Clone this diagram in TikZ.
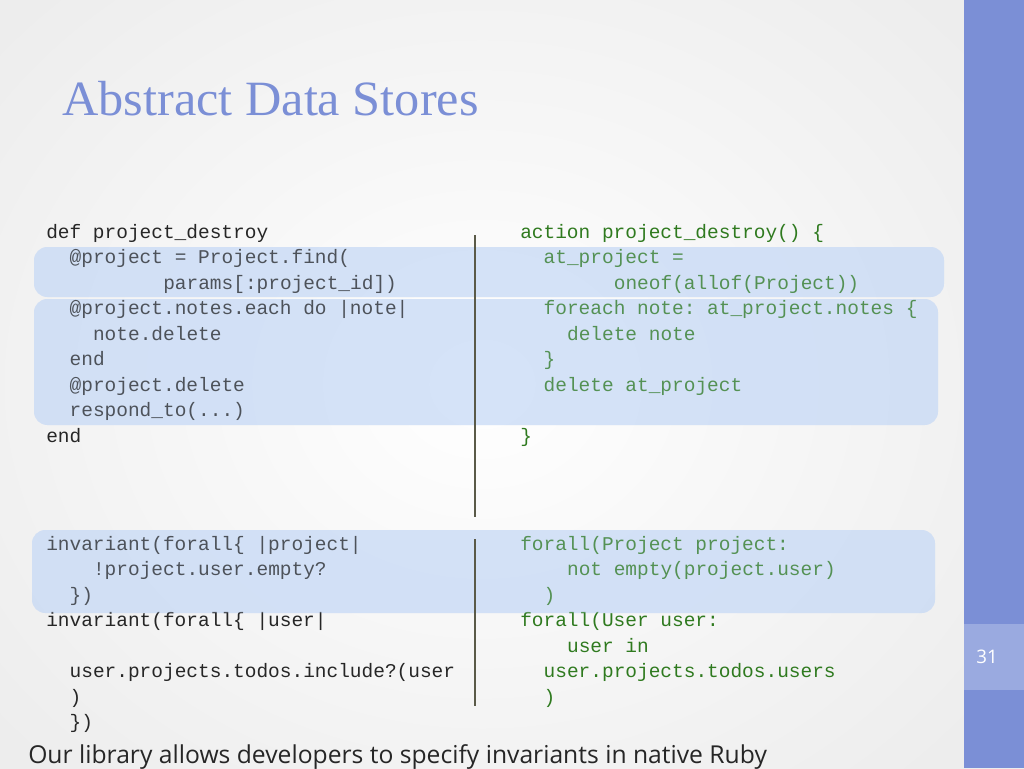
\documentclass[tikz,border=0pt]{standalone}
\usepackage{fontspec}
\setmainfont{Liberation Serif}
\setsansfont{Open Sans}
\setmonofont{Liberation Mono}
\usetikzlibrary{positioning}
\definecolor{slideblue}{HTML}{7B8FD6}
\definecolor{numblue}{HTML}{9AAAE0}
\definecolor{hiblue}{HTML}{C4D8F6}
\definecolor{codegreen}{HTML}{2F7A1F}
\definecolor{rulegray}{HTML}{5A5A48}
\tikzset{
    code/.style={anchor=base west, inner sep=0pt, font=\ttfamily\fontsize{14.6}{17}\selectfont, text=black!85},
    gcode/.style={code, text=codegreen},
    hibox/.style={fill=hiblue, fill opacity=0.6, rounded corners=10pt, draw=none},
    divider/.style={draw=rulegray, line width=1.4pt}
}
\begin{document}
\begin{tikzpicture}[x=0.75pt, y=-0.75pt]
    \def \ch {11.7}
    \def \ln {25.5}
    \useasboundingbox (0,0) rectangle (1024,768);
    \fill[white] (0,0) rectangle (964,768);
    \shade[inner color=white, outer color=black!7] (-150,-150) rectangle (1114,918);
    \fill[slideblue] (964,0) rectangle (1024,768);
    \fill[numblue] (964,624) rectangle (1024,690);
    \node[text=white, font=\sffamily\fontsize{14}{16}\selectfont] (pagenum) at (987,657) {31};
    \node[anchor=base west, inner sep=0pt, text=slideblue, font=\fontsize{37}{40}\selectfont, xscale=1.02] (title) at (62,115) {Abstract Data Stores};
    % highlights
    \path[hibox] (34,247) rectangle (944,297);
    \path[hibox] (34,299) rectangle (938,425);
    \path[hibox] (32,530) rectangle (935,613);
    % left code, upper block
    \node[code] (l1) at (46,238) {def project\_destroy};
    \node[code] (l2) at (46+2*\ch,238+\ln) {@project = Project.find(};
    \node[code] (l3) at (46+10*\ch,238+2*\ln) {params[:project\_id])};
    \node[code] (l4) at (46+2*\ch,238+3*\ln) {@project.notes.each do |note|};
    \node[code] (l5) at (46+4*\ch,238+4*\ln) {note.delete};
    \node[code] (l6) at (46+2*\ch,238+5*\ln) {end};
    \node[code] (l7) at (46+2*\ch,238+6*\ln) {@project.delete};
    \node[code] (l8) at (46+2*\ch,238+7*\ln) {respond\_to(...)};
    \node[code] (l9) at (46,238+8*\ln) {end};
    % right code, upper block
    \node[gcode] (r1) at (520,238) {action project\_destroy() \{};
    \node[gcode] (r2) at (520+2*\ch,238+\ln) {at\_project =};
    \node[gcode] (r3) at (520+8*\ch,238+2*\ln) {oneof(allof(Project))};
    \node[gcode] (r4) at (520+2*\ch,238+3*\ln) {foreach note: at\_project.notes \{};
    \node[gcode] (r5) at (520+4*\ch,238+4*\ln) {delete note};
    \node[gcode] (r6) at (520+2*\ch,238+5*\ln) {\}};
    \node[gcode] (r7) at (520+2*\ch,238+6*\ln) {delete at\_project};
    \node[gcode] (r8) at (520,238+8*\ln) {\}};
    % lower block
    \node[code] (m1) at (46,550) {invariant(forall\{ |project|};
    \node[code] (m2) at (46+4*\ch,550+\ln) {!project.user.empty?};
    \node[code] (m3) at (46+2*\ch,550+2*\ln) {\})};
    \node[code] (m4) at (46,550+3*\ln) {invariant(forall\{ |user|};
    \node[code] (m5) at (46+2*\ch,550+5*\ln) {user.projects.todos.include?(user};
    \node[code] (m6) at (46+2*\ch,550+6*\ln) {)};
    \node[code] (m7) at (46+2*\ch,550+7*\ln) {\})};
    \node[gcode] (s1) at (520,550) {forall(Project project:};
    \node[gcode] (s2) at (520+4*\ch,550+\ln) {not empty(project.user)};
    \node[gcode] (s3) at (520+2*\ch,550+2*\ln) {)};
    \node[gcode] (s4) at (520,550+3*\ln) {forall(User user:};
    \node[gcode] (s5) at (520+4*\ch,550+4*\ln) {user in};
    \node[gcode] (s6) at (520+2*\ch,550+5*\ln) {user.projects.todos.users};
    \node[gcode] (s7) at (520+2*\ch,550+6*\ln) {)};
    % text in the highlights shows a little lighter
    \path[hibox, fill opacity=0.25] (34,247) rectangle (944,297);
    \path[hibox, fill opacity=0.25] (34,299) rectangle (938,425);
    \path[hibox, fill opacity=0.25] (32,530) rectangle (935,613);
    % dividers
    \coordinate (d1) at (475,235);
    \coordinate (d2) at (475,517);
    \coordinate (d3) at (475,539);
    \coordinate (d4) at (475,706);
    \draw[divider] (d1) -- (d2);
    \draw[divider] (d3) -- (d4);
    \node[anchor=base west, inner sep=0pt, text=black!85, font=\sffamily\fontsize{18.5}{22}\selectfont] (caption) at (28,763) {Our library allows developers to specify invariants in native Ruby};
\end{tikzpicture}
\end{document}
